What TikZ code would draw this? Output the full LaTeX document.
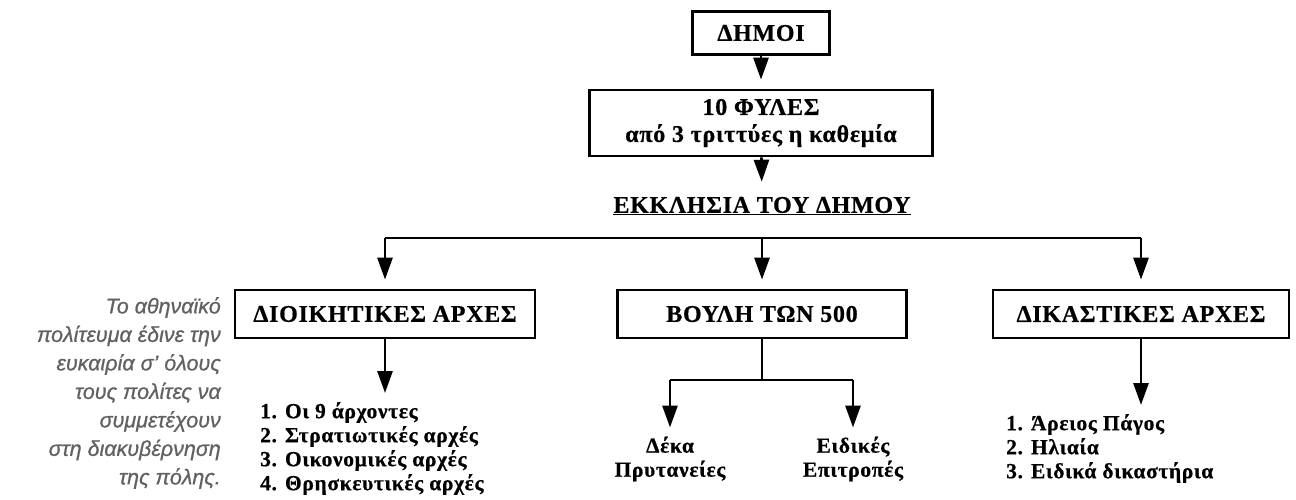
\documentclass[tikz,border=0pt]{standalone}
\usepackage{fontspec}
\setmainfont{Liberation Serif}
\newfontfamily\capsfont[LetterSpace=3, BoldFeatures={FakeBold=0.6}]{Liberation Serif}
\newfontfamily\notefont[FakeBold=0.8]{Liberation Sans}
\usetikzlibrary{arrows.meta}

\tikzset{
  box/.style={draw, line width=2.8pt, minimum height=48pt, inner sep=0pt,
    font=\capsfont\bfseries\fontsize{24}{27}\selectfont},
  arr/.style={line width=2.8pt, -{Triangle[width=15pt,length=22pt]}, shorten >=9pt},
  conn/.style={line width=2.8pt},
  item/.style={font=\capsfont\bfseries\fontsize{21.5}{24}\selectfont, align=left, inner sep=0pt},
}

\begin{document}
\begin{tikzpicture}[x=1pt,y=-1pt]
    \useasboundingbox (0,0) rectangle (1296,499);

    % Πάνω μέρος
    \node[box, minimum width=137pt, minimum height=43pt] (dimoi) at (761,33) {ΔΗΜΟΙ};
    \node[box, minimum width=343pt, minimum height=66pt, align=center] (fyles) at (761,123)
        {10 ΦΥΛΕΣ\\από 3 τριττύες η καθεμία};
    \node[font=\capsfont\bfseries\fontsize{24}{27}\selectfont, inner sep=6pt] (ekkl) at (762,206)
        {\underline{ΕΚΚΛΗΣΙΑ ΤΟΥ ΔΗΜΟΥ}};

    \draw[arr] (dimoi) -- (fyles);
    \draw[arr] (fyles) -- (ekkl);

    % Οι τρεις εξουσίες
    \node[box, minimum width=300pt] (dioik) at (385,314) {ΔΙΟΙΚΗΤΙΚΕΣ ΑΡΧΕΣ};
    \node[box, minimum width=289pt] (vouli) at (762,314) {ΒΟΥΛΗ ΤΩΝ 500};
    \node[box, minimum width=296pt] (dikast) at (1141,314) {ΔΙΚΑΣΤΙΚΕΣ ΑΡΧΕΣ};

    \coordinate (bus) at (762,238);
    \draw[conn] (dioik |- bus) -- (dikast |- bus);
    \draw[arr] (dioik |- bus) -- (dioik);
    \draw[arr] (bus) -- (vouli);
    \draw[arr] (dikast |- bus) -- (dikast);

    % Διοικητικές αρχές
    \node[item, anchor=north west] (dlist) at (260,402)
        {1. Οι 9 άρχοντες\\2. Στρατιωτικές αρχές\\3. Οικονομικές αρχές\\4. Θρησκευτικές αρχές};
    \draw[arr] (dioik) -- (dioik |- dlist.north);

    % Βουλή των 500
    \coordinate (split) at (762,380);
    \node[item, align=center] (deka) at (670,459) {Δέκα\\Πρυτανείες};
    \node[item, align=center] (epitr) at (853,459) {Ειδικές\\Επιτροπές};
    \draw[conn] (vouli) -- (split);
    \draw[conn] (deka |- split) -- (epitr |- split);
    \draw[arr] (deka |- split) -- (deka.north);
    \draw[arr] (epitr |- split) -- (epitr.north);

    % Δικαστικές αρχές
    \node[item, anchor=north west] (klist) at (1006,414)
        {1. Άρειος Πάγος\\2. Ηλιαία\\3. Ειδικά δικαστήρια};
    \draw[arr] (dikast) -- (dikast |- klist.north);

    % Σχόλιο
    \node[font=\notefont\itshape\fontsize{21.5}{28.5}\selectfont, text=black!62, align=right,
          anchor=north east, inner sep=0pt] (note) at (221,297)
        {Το αθηναϊκό\\πολίτευμα έδινε την\\ευκαιρία σ’ όλους\\τους πολίτες να\\συμμετέχουν\\στη διακυβέρνηση\\της πόλης.};
\end{tikzpicture}
\end{document}
